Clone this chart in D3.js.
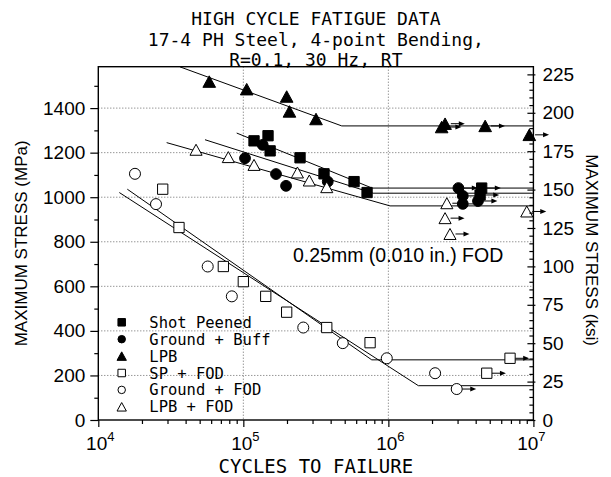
<!DOCTYPE html>
<html>
<head>
<meta charset="utf-8">
<script src="https://cdn.jsdelivr.net/npm/d3@7"></script>
<style>
  body { margin: 0; background: #fff; }
  svg { display: block; }
  .mono { font-family: "DejaVu Sans Mono", monospace; }
  .sans { font-family: "Liberation Sans", Arial, sans-serif; }
</style>
</head>
<body>
<div id="chart"></div>
<script>
// ---- data (cycles, MPa) ----
const cycleTicks = [1e4, 1e5, 1e6, 1e7];
const mpaTicks = [0, 200, 400, 600, 800, 1000, 1200, 1400];
const ksiTicks = [0, 25, 50, 75, 100, 125, 150, 175, 200, 225];

const spCycles = [1.185e5, 1.48e5, 1.53e5, 2.46e5, 3.6e5, 5.8e5, 7.13e5, 4.4e6, 4.29e6];
const spStress = [1253, 1276, 1208, 1177, 1105, 1070, 1021, 1041, 1010];
const spRunout = [0, 0, 0, 0, 0, 0, 0, 1, 1];

const gbCycles = [1.027e5, 1.36e5, 1.68e5, 1.97e5, 3.82e5, 3.04e6, 3.26e6, 3.26e6, 4.15e6];
const gbStress = [1175, 1235, 1104, 1051, 1070, 1041, 1006, 970, 983];
const gbRunout = [0, 0, 0, 0, 0, 1, 1, 1, 1];

const lpbCycles = [5.82e4, 1.055e5, 1.99e5, 2.08e5, 3.17e5, 2.33e6, 2.46e6, 4.65e6, 9.37e6];
const lpbStress = [1519, 1485, 1452, 1385, 1351, 1315, 1330, 1320, 1280];
const lpbRunout = [0, 0, 0, 0, 0, 1, 1, 1, 1];

const spfCycles = [2.78e4, 3.6e4, 7.28e4, 1.0e5, 1.427e5, 1.99e5, 3.76e5, 7.48e5, 6.9e6, 4.77e6];
const spfStress = [1036, 864, 689, 621, 555, 484, 415, 347, 277, 210];
const spfRunout = [0, 0, 0, 0, 0, 0, 0, 0, 1, 1];

const gfCycles = [1.79e4, 2.5e4, 5.68e4, 8.33e4, 2.59e5, 4.85e5, 9.75e5, 2.1e6, 2.96e6];
const gfStress = [1105, 969, 689, 555, 415, 345, 277, 210, 139];
const gfRunout = [0, 0, 0, 0, 0, 0, 0, 0, 1];

const lpbfCycles = [4.72e4, 7.88e4, 1.185e5, 2.36e5, 2.85e5, 3.76e5, 2.53e6, 2.46e6, 2.66e6, 9.0e6];
const lpbfStress = [1213, 1180, 1145, 1111, 1075, 1045, 973, 906, 835, 936];
const lpbfRunout = [0, 0, 0, 0, 0, 0, 1, 1, 1, 1];

// fitted S-N lines (knee then endurance limit)
const lpbFitCycles = [3.66e4, 4.77e5, 1e7];   const lpbFitStress = [1585, 1320, 1320];
const spFitCycles = [9.0e4, 7.72e5, 1e7];     const spFitStress = [1288, 1041, 1041];
const gbFitCycles = [5.44e4, 7.84e5, 1e7];    const gbFitStress = [1258, 1018, 1018];
const lpbfFitCycles = [2.96e4, 1.027e6, 1e7]; const lpbfFitStress = [1245, 961, 961];
const spfFitCycles = [1.585e4, 7.68e5, 1e7];  const spfFitStress = [1036, 270, 270];
const gfFitCycles = [1.396e4, 1.61e6, 1e7];   const gfFitStress = [1021, 154, 154];

const legendNames = ["Shot Peened", "Ground + Buff", "LPB", "SP + FOD", "Ground + FOD", "LPB + FOD"];

const MPA_PER_KSI = 6.8948;

// ---- layout ----
const W = 611, H = 477;
const plotL = 98.3, plotR = 533.4, plotT = 66.7, plotB = 420;

const svg = d3.select("#chart").append("svg")
  .attr("width", W).attr("height", H);

const x = d3.scaleLog().domain([1e4, 1e7]).range([plotL, plotR]);
const y = d3.scaleLinear().domain([0, 230 * MPA_PER_KSI]).range([plotB, plotT]);
const yK = d3.scaleLinear().domain([0, 230]).range([plotB, plotT]);

svg.append("clipPath").attr("id", "plotclip")
  .append("rect").attr("x", plotL).attr("y", plotT)
  .attr("width", plotR - plotL).attr("height", plotB - plotT);

// grid
svg.append("g").selectAll("line")
  .data(mpaTicks.filter(d => d > 0))
  .enter().append("line")
  .attr("x1", plotL).attr("x2", plotR)
  .attr("y1", d => y(d)).attr("y2", d => y(d))
  .attr("stroke", "#444").attr("stroke-width", 0.8)
  .attr("stroke-dasharray", "1,2");

svg.append("g").selectAll("line")
  .data([1e5, 1e6])
  .enter().append("line")
  .attr("x1", d => x(d)).attr("x2", d => x(d))
  .attr("y1", plotT).attr("y2", plotB)
  .attr("stroke", "#444").attr("stroke-width", 0.8)
  .attr("stroke-dasharray", "1,2");

// fit lines
const line = d3.line().x(d => x(d[0])).y(d => y(d[1]));
const fits = [
  [lpbFitCycles, lpbFitStress], [spFitCycles, spFitStress], [gbFitCycles, gbFitStress],
  [lpbfFitCycles, lpbfFitStress], [spfFitCycles, spfFitStress], [gfFitCycles, gfFitStress]
];
svg.append("g").attr("clip-path", "url(#plotclip)")
  .selectAll("path").data(fits).enter().append("path")
  .attr("d", f => line(d3.zip(f[0], f[1])))
  .attr("fill", "none").attr("stroke", "#000").attr("stroke-width", 1);

// markers
function markerPath(kind, s) {
  const p = d3.path();
  if (kind === "square") {
    p.rect(-s / 2, -s / 2, s, s);
  } else if (kind === "circle") {
    p.moveTo(s / 2, 0); p.arc(0, 0, s / 2, 0, 2 * Math.PI);
  } else {
    const w = s * 1.1, h = s;
    p.moveTo(0, -h / 2); p.lineTo(w / 2, h / 2); p.lineTo(-w / 2, h / 2); p.closePath();
  }
  return p.toString();
}

const series = [
  { n: spCycles, s: spStress, r: spRunout, kind: "square", filled: true, size: 10.3 },
  { n: gbCycles, s: gbStress, r: gbRunout, kind: "circle", filled: true, size: 10.8 },
  { n: lpbCycles, s: lpbStress, r: lpbRunout, kind: "triangle", filled: true, size: 11.5 },
  { n: spfCycles, s: spfStress, r: spfRunout, kind: "square", filled: false, size: 10.3 },
  { n: gfCycles, s: gfStress, r: gfRunout, kind: "circle", filled: false, size: 11 },
  { n: lpbfCycles, s: lpbfStress, r: lpbfRunout, kind: "triangle", filled: false, size: 11 }
];

const markG = svg.append("g");
series.forEach(function(ser) {
  const pts = d3.zip(ser.n, ser.s, ser.r);
  // runout arrows
  markG.append("g").selectAll("g").data(pts.filter(p => p[2]))
    .enter().append("g")
    .attr("transform", p => "translate(" + x(p[0]) + "," + y(p[1]) + ")")
    .each(function() {
      const g = d3.select(this);
      g.append("line").attr("x1", ser.size / 2).attr("x2", ser.size / 2 + 9)
        .attr("y1", 0).attr("y2", 0).attr("stroke", "#000").attr("stroke-width", 1);
      g.append("path").attr("d", "M" + (ser.size / 2 + 14) + ",0 l-6,-2.5 l0,5 z").attr("fill", "#000");
    });
  markG.append("g").selectAll("path").data(pts)
    .enter().append("path")
    .attr("transform", p => "translate(" + x(p[0]) + "," + y(p[1]) + ")")
    .attr("d", markerPath(ser.kind, ser.size))
    .attr("fill", ser.filled ? "#000" : "#fff")
    .attr("stroke", "#000").attr("stroke-width", 1);
});

// axes
const axisStyle = g => {
  g.select(".domain").remove();
  g.selectAll(".tick line").attr("stroke", "#000").attr("stroke-width", 1.2);
};

// left MPa axis
svg.append("g").attr("transform", "translate(" + plotL + ",0)")
  .call(d3.axisLeft(y).tickValues(mpaTicks).tickSize(8).tickPadding(5).tickFormat(d3.format("d")))
  .call(axisStyle)
  .call(g => g.selectAll("text").attr("class", "sans").attr("font-size", 19).attr("fill", "#000"));
svg.append("g").attr("transform", "translate(" + plotL + ",0)")
  .call(d3.axisLeft(y).tickValues(d3.range(100, 1600, 200)).tickSize(4).tickFormat(""))
  .call(axisStyle);

// right ksi axis
svg.append("g").attr("transform", "translate(" + plotR + ",0)")
  .call(d3.axisRight(yK).tickValues(ksiTicks).tickSizeInner(-6).tickSizeOuter(0).tickPadding(9).tickFormat(d3.format("d")))
  .call(axisStyle)
  .call(g => g.selectAll(".tick line").attr("x1", 2))
  .call(g => g.selectAll("text").attr("class", "sans").attr("font-size", 19).attr("fill", "#000"));
svg.append("g").attr("transform", "translate(" + plotR + ",0)")
  .call(d3.axisRight(yK).tickValues(d3.range(5, 230, 5).filter(d => d % 25 !== 0)).tickSizeInner(-4).tickSizeOuter(0).tickFormat(""))
  .call(axisStyle);

// bottom cycles axis
svg.append("g").attr("transform", "translate(0," + plotB + ")")
  .call(d3.axisBottom(x).tickValues(cycleTicks).tickSize(7).tickFormat(""))
  .call(axisStyle);
svg.append("g").attr("transform", "translate(0," + plotB + ")")
  .call(d3.axisBottom(x).tickValues(x.ticks().filter(d => cycleTicks.indexOf(d) < 0)).tickSize(4).tickFormat(""))
  .call(axisStyle);

const xl = svg.append("g").selectAll("text").data(cycleTicks).enter().append("text")
  .attr("class", "sans").attr("font-size", 19).attr("text-anchor", "middle")
  .attr("x", (d, i) => x(d) + (i === cycleTicks.length - 1 ? -2 : 2)).attr("y", plotB + 30);
xl.append("tspan").text("10");
xl.append("tspan").attr("dy", -9).attr("font-size", 13).text(d => Math.round(Math.log10(d)));

// frame
svg.append("rect").attr("x", plotL).attr("y", plotT)
  .attr("width", plotR - plotL).attr("height", plotB - plotT)
  .attr("fill", "none").attr("stroke", "#000").attr("stroke-width", 1.4);

// titles
const titleLines = ["HIGH CYCLE FATIGUE DATA", "17-4 PH Steel, 4-point Bending,", "R=0.1, 30 Hz, RT"];
svg.append("g").selectAll("text").data(titleLines).enter().append("text")
  .attr("class", "mono").attr("font-size", 18).attr("text-anchor", "middle")
  .attr("x", (plotL + plotR) / 2).attr("y", (d, i) => 25 + i * 20.5)
  .text(d => d);

svg.append("text").attr("class", "mono").attr("font-size", 19).attr("text-anchor", "middle")
  .attr("x", (plotL + plotR) / 2).attr("y", 473).text("CYCLES TO FAILURE");

svg.append("text").attr("class", "sans").attr("font-size", 17).attr("text-anchor", "middle")
  .attr("transform", "translate(27," + ((plotT + plotB) / 2) + ") rotate(-90)")
  .text("MAXIMUM STRESS (MPa)");

svg.append("text").attr("class", "sans").attr("font-size", 17).attr("text-anchor", "middle")
  .attr("transform", "translate(586,250) rotate(90)")
  .text("MAXIMUM STRESS (ksi)");

svg.append("text").attr("class", "sans").attr("font-size", 19.5)
  .attr("x", 293).attr("y", 262).text("0.25mm (0.010 in.) FOD");

// legend
const leg = svg.append("g").selectAll("g").data(series).enter().append("g")
  .attr("transform", (d, i) => "translate(121.7," + (322.3 + i * 16.9) + ")");
leg.append("path")
  .attr("d", d => markerPath(d.kind, d.kind === "triangle" ? 8.5 : 7.5))
  .attr("fill", d => d.filled ? "#000" : "#fff")
  .attr("stroke", "#000").attr("stroke-width", 1);
leg.append("text").attr("class", "mono").attr("font-size", 15.5)
  .attr("x", 27.6).attr("y", 5.5)
  .text((d, i) => legendNames[i]);
</script>
</body>
</html>
